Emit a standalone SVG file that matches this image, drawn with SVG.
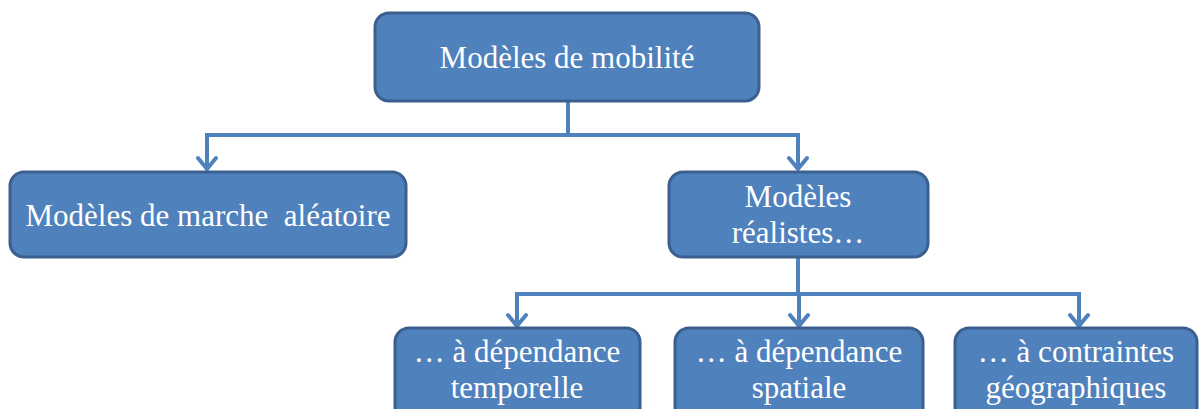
<svg xmlns="http://www.w3.org/2000/svg" width="1201" height="409" viewBox="0 0 1201 409">
<style>
.box{fill:#4F81BD;stroke:#3B6090;stroke-width:3}
.t{font-family:'Liberation Serif','Times New Roman',serif;font-size:31px;fill:#FFFFFF;text-anchor:middle;white-space:pre}
.c{fill:none;stroke:#4F81BD;stroke-width:4;stroke-linejoin:miter}
.a{fill:none;stroke:#4F81BD;stroke-width:4;stroke-linecap:round;stroke-linejoin:round}
</style>
<rect width="1201" height="409" fill="#FFFFFF"/>
<g id="connectors">
<path class="c" d="M568,101 V135 M205,135 H800 M207,135 V169 M798,135 V169"/>
<path class="a" d="M198,158 L207,169 L216,158 M789,158 L798,169 L807,158"/>
<path class="c" d="M798,257 V294 M515,294 H1081 M517,294 V326 M799,294 V326 M1079,294 V326"/>
<path class="a" d="M508,315 L517,326 L526,315 M790,315 L799,326 L808,315 M1070,315 L1079,326 L1088,315"/>
</g>
<g id="n1">
<rect class="box" x="375" y="13" width="384" height="88" rx="14"/>
<text class="t" x="567" y="68">Modèles de mobilité</text>
</g>
<g id="n2">
<rect class="box" x="10" y="172" width="396" height="85" rx="14"/>
<text class="t" x="208" y="226" xml:space="preserve">Modèles de marche  aléatoire</text>
</g>
<g id="n3">
<rect class="box" x="669" y="172" width="259" height="85" rx="14"/>
<text class="t" x="798" y="207">Modèles</text>
<text class="t" x="798" y="243">réalistes…</text>
</g>
<g id="n4">
<rect class="box" x="395" y="328" width="245" height="100" rx="14"/>
<text class="t" x="517" y="362">… à dépendance</text>
<text class="t" x="517" y="398">temporelle</text>
</g>
<g id="n5">
<rect class="box" x="675" y="328" width="248" height="100" rx="14"/>
<text class="t" x="799" y="362">… à dépendance</text>
<text class="t" x="799" y="398">spatiale</text>
</g>
<g id="n6">
<rect class="box" x="955" y="328" width="242" height="100" rx="14"/>
<text class="t" x="1076" y="362">… à contraintes</text>
<text class="t" x="1076" y="398">géographiques</text>
</g>
</svg>
